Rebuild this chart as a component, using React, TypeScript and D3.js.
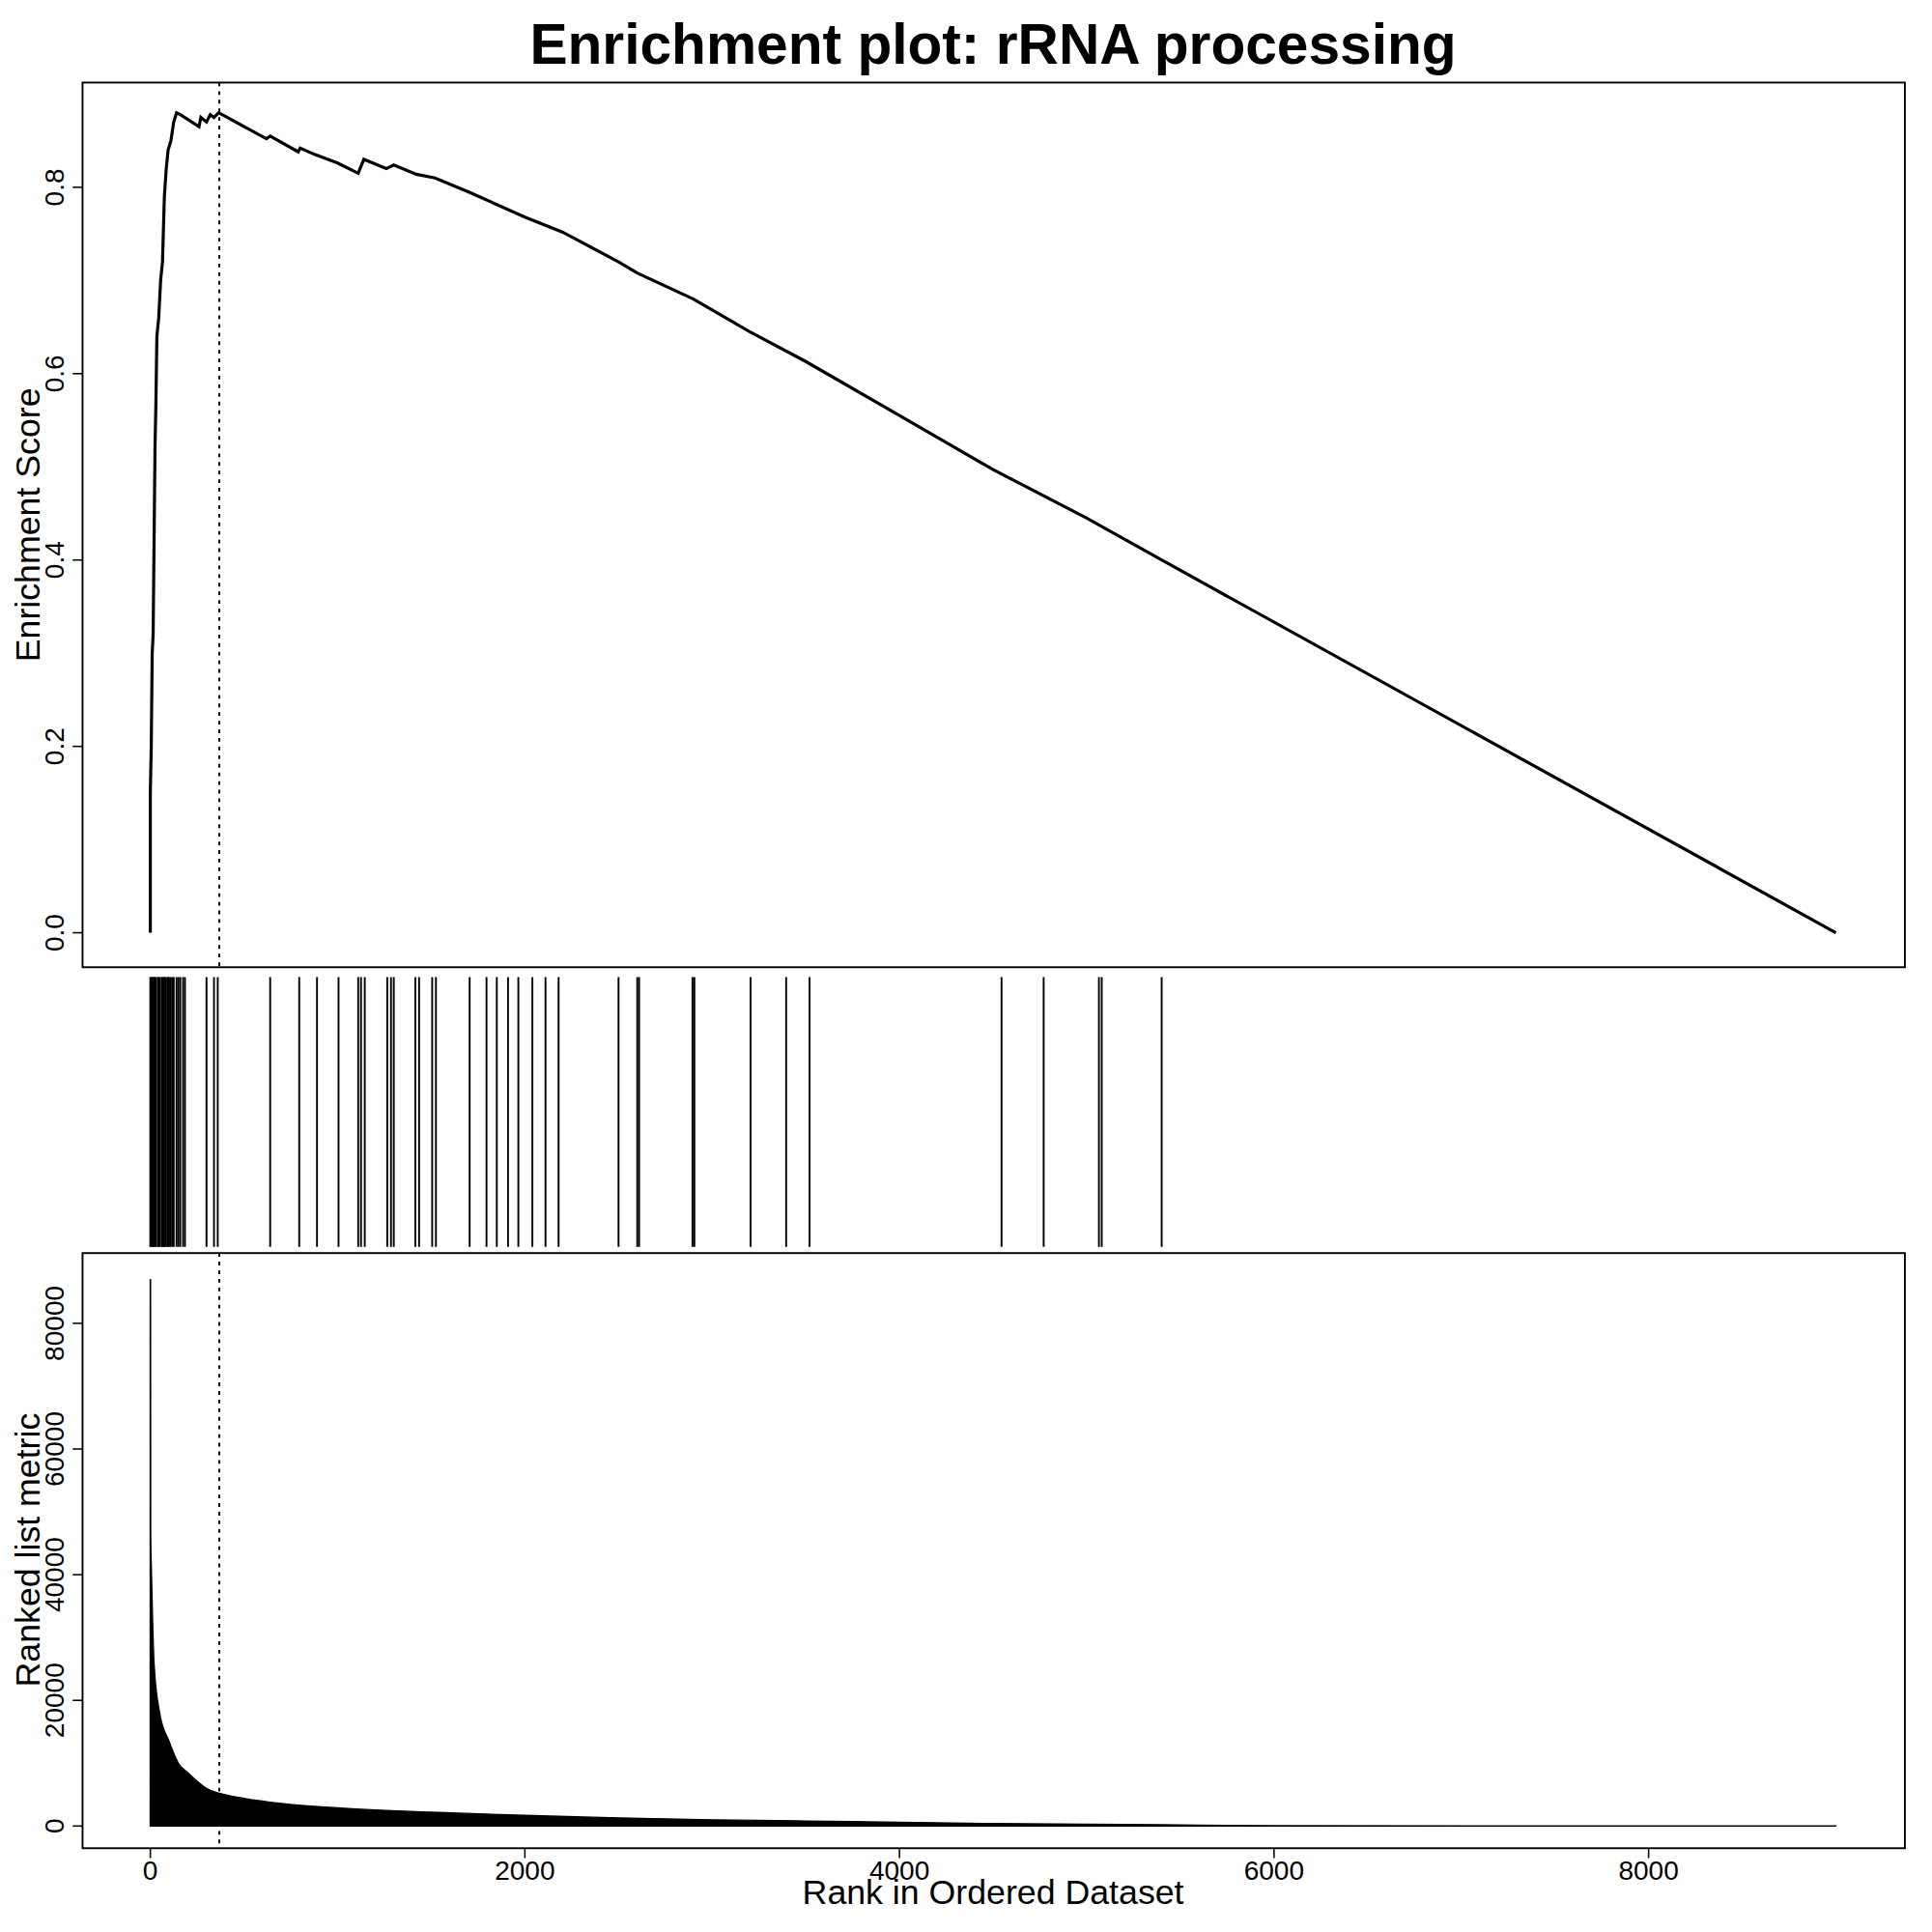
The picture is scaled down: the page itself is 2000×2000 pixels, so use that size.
import React, { useEffect, useRef } from 'react';
import * as d3 from 'd3';

const esRanks = [0, 0, 5, 10, 15, 20, 25, 30, 35, 45, 55, 65, 75, 85, 95, 110, 125, 140, 160, 260, 270, 300, 320, 340, 365, 620, 640, 790, 800, 880, 1000, 1110, 1140, 1260, 1300, 1420, 1520, 1700, 2000, 2200, 2500, 2600, 2900, 3200, 3500, 4000, 4500, 5000, 5400, 9000];
const esValues = [0, 0.15, 0.2, 0.3, 0.32, 0.42, 0.52, 0.57, 0.64, 0.66, 0.7, 0.72, 0.79, 0.82, 0.84, 0.85, 0.87, 0.88, 0.878, 0.865, 0.875, 0.87, 0.878, 0.875, 0.88, 0.852, 0.855, 0.838, 0.842, 0.835, 0.826, 0.815, 0.83, 0.82, 0.824, 0.814, 0.81, 0.795, 0.768, 0.752, 0.72, 0.708, 0.68, 0.645, 0.613, 0.555, 0.497, 0.445, 0.4, 0];

const hitRanks = [0, 5, 10, 15, 20, 25, 30, 40, 45, 50, 60, 65, 70, 75, 80, 90, 95, 100, 110, 120, 125, 140, 150, 160, 175, 185, 300, 340, 360, 640, 795, 890, 1005, 1110, 1125, 1145, 1265, 1285, 1300, 1415, 1435, 1505, 1525, 1705, 1795, 1850, 1910, 1965, 2040, 2110, 2180, 2500, 2600, 2610, 2895, 2905, 3205, 3395, 3520, 4545, 4770, 5065, 5080, 5400];

const metricRanks = [0, 1, 5, 20, 50, 100, 150, 200, 300, 370, 500, 700, 1000, 1500, 2000, 2500, 3000, 3500, 4000, 4500, 5000, 5400, 6000, 9000];
const metricValues = [87000, 47000, 42000, 26000, 18000, 13500, 10000, 8500, 6000, 5200, 4400, 3600, 2900, 2200, 1700, 1300, 1000, 800, 600, 400, 300, 200, 50, 10];

const esTicks = [0, 0.2, 0.4, 0.6, 0.8];
const metricTicks = [0, 20000, 40000, 60000, 80000];
const rankTicks = [0, 2000, 4000, 6000, 8000];
const leadingEdge = 368;

export default function App() {
  const ref = useRef<SVGSVGElement>(null);

  useEffect(() => {
    const svg = d3.select(ref.current);
    svg.selectAll('*').remove();
    const font = 'Arial, "Liberation Sans", sans-serif';
    svg.append('rect').attr('width', 1568).attr('height', 1568).attr('fill', '#fff');

    const x = d3.scaleLinear().domain([0, 8000]).range([122, 1338]);
    const yEs = d3.scaleLinear().domain([0, 0.8]).range([757, 152]);
    const yM = d3.scaleLinear().domain([0, 80000]).range([1482, 1074]);

    svg.append('text').attr('x', 806).attr('y', 52).attr('text-anchor', 'middle')
      .attr('font-family', font).attr('font-weight', 'bold').attr('font-size', 46)
      .text('Enrichment plot: rRNA processing');

    // Panel boxes
    [[67, 67, 718], [67, 1017, 483]].forEach(([bx, by, bh]) => {
      svg.append('rect').attr('x', bx).attr('y', by).attr('width', 1479).attr('height', bh)
        .attr('fill', 'none').attr('stroke', '#000').attr('stroke-width', 1.5);
    });

    // ES curve
    const esLine = d3.line<number>().x((_, i) => x(esRanks[i])).y(d => yEs(d));
    svg.append('path').attr('d', esLine(esValues)).attr('fill', 'none')
      .attr('stroke', '#000').attr('stroke-width', 2.5);

    // Hits
    svg.selectAll('.hit').data(hitRanks).enter().append('line')
      .attr('x1', d => x(d)).attr('x2', d => x(d)).attr('y1', 793).attr('y2', 1012)
      .attr('stroke', '#000').attr('stroke-width', 1.5);

    // Ranked metric
    const area = d3.area<number>().x((_, i) => x(metricRanks[i])).y0(yM(0)).y1(d => yM(d))
      .curve(d3.curveMonotoneX);
    svg.append('path').attr('d', area(metricValues)).attr('fill', '#000')
      .attr('stroke', '#000').attr('stroke-width', 1);
    svg.append('line').attr('x1', x(0)).attr('x2', x(0)).attr('y1', yM(0)).attr('y2', yM(metricValues[0]))
      .attr('stroke', '#000').attr('stroke-width', 1.2);

    // Leading edge lines
    [[67, 785], [1017, 1500]].forEach(([a, b]) => {
      svg.append('line').attr('x1', x(leadingEdge)).attr('x2', x(leadingEdge)).attr('y1', a).attr('y2', b)
        .attr('stroke', '#000').attr('stroke-width', 1.5).attr('stroke-dasharray', '3,4');
    });

    // Y axes
    const yAxis = (scale: d3.ScaleLinear<number, number>, ticks: number[], fmt: (d: number) => string) => {
      ticks.forEach(t => {
        svg.append('line').attr('x1', 59).attr('x2', 67).attr('y1', scale(t)).attr('y2', scale(t))
          .attr('stroke', '#000').attr('stroke-width', 1.2);
        svg.append('text').attr('transform', `translate(52,${scale(t)}) rotate(-90)`)
          .attr('text-anchor', 'middle').attr('font-family', font).attr('font-size', 22).text(fmt(t));
      });
    };
    yAxis(yEs, esTicks, d => d.toFixed(1));
    yAxis(yM, metricTicks, d => String(d));

    svg.append('text').attr('transform', 'translate(32,426) rotate(-90)').attr('text-anchor', 'middle')
      .attr('font-family', font).attr('font-size', 28).text('Enrichment Score');
    svg.append('text').attr('transform', 'translate(32,1258) rotate(-90)').attr('text-anchor', 'middle')
      .attr('font-family', font).attr('font-size', 28).text('Ranked list metric');

    // X axis
    rankTicks.forEach(t => {
      svg.append('line').attr('x1', x(t)).attr('x2', x(t)).attr('y1', 1500).attr('y2', 1508)
        .attr('stroke', '#000').attr('stroke-width', 1.2);
      svg.append('text').attr('x', x(t)).attr('y', 1526).attr('text-anchor', 'middle')
        .attr('font-family', font).attr('font-size', 22).text(String(t));
    });
    svg.append('text').attr('x', 806).attr('y', 1545).attr('text-anchor', 'middle')
      .attr('font-family', font).attr('font-size', 28).text('Rank in Ordered Dataset');
  }, []);

  return (
    <div style={{ position: 'absolute', left: 0, top: 0 }}>
      <svg ref={ref} width={2000} height={2000} viewBox="0 0 1568 1568" style={{ display: 'block' }} />
    </div>
  );
}
